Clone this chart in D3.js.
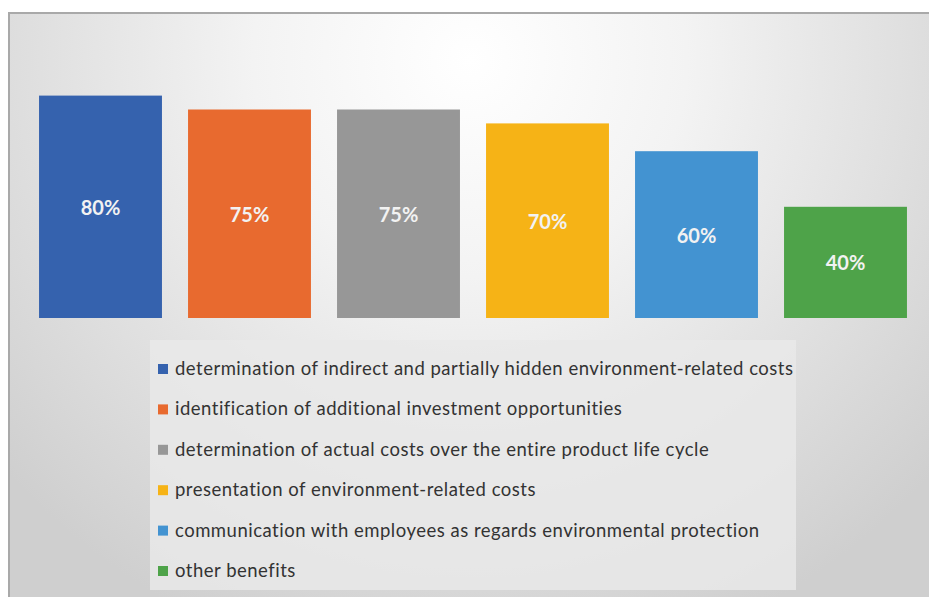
<!DOCTYPE html>
<html>
<head>
<meta charset="utf-8">
<script src="https://cdn.jsdelivr.net/npm/d3@7"></script>
<style>
    body { margin: 0; background: #fff; }
    svg { display: block; }
    .bar-label { font-family: Lato, "Open Sans", sans-serif; font-weight: bold; font-size: 20px; fill: #f2f2f2; }
    .legend-text { font-family: Lato, "Open Sans", sans-serif; font-size: 18.5px; letter-spacing: 0.5px; fill: #333; }
</style>
</head>
<body>
<div id="chart"></div>
<script>
'use strict';

const categories = [
    "determination of indirect and partially hidden environment-related costs",
    "identification of additional investment opportunities",
    "determination of actual costs over the entire product life cycle",
    "presentation of environment-related costs",
    "communication with employees as regards environmental protection",
    "other benefits"
];
const values = [80, 75, 75, 70, 60, 40];
const colors = ["#3562ae", "#e86a2f", "#979797", "#f6b316", "#4393d1", "#4ea349"];

let width = 929;
let height = 599;
let margin = { top: 40, bottom: 281, left: 26, right: 9 };

const svg = d3.select("#chart")
    .append("svg")
    .attr("width", width)
    .attr("height", height);

// background gradient
const defs = svg.append("defs");
const grad = defs.append("radialGradient")
    .attr("id", "bg")
    .attr("gradientUnits", "userSpaceOnUse")
    .attr("cx", 470).attr("cy", 60).attr("r", 620);
grad.append("stop").attr("offset", "0%").attr("stop-color", "#ffffff");
grad.append("stop").attr("offset", "35%").attr("stop-color", "#f3f3f3");
grad.append("stop").attr("offset", "100%").attr("stop-color", "#cfcfcf");

svg.append("rect")
    .attr("x", 9).attr("y", 13)
    .attr("width", width - 9).attr("height", 584)
    .attr("fill", "url(#bg)");

svg.append("path")
    .attr("d", `M9,597 V13 H${width}`)
    .attr("fill", "none")
    .attr("stroke", "#a9a9a9")
    .attr("stroke-width", 2);

const xScale = d3.scaleBand()
    .domain(categories)
    .range([margin.left, width - margin.right])
    .paddingInner(0.175)
    .paddingOuter(0.0875);

const yScale = d3.scaleLinear()
    .domain([0, 100])
    .range([height - margin.bottom, margin.top]);

svg.selectAll("rect.bar")
    .data(categories)
    .join("rect")
    .attr("class", "bar")
    .attr("x", d => xScale(d))
    .attr("y", (d, i) => yScale(values[i]))
    .attr("width", xScale.bandwidth())
    .attr("height", (d, i) => yScale(0) - yScale(values[i]))
    .attr("fill", (d, i) => colors[i]);

svg.selectAll("text.bar-label")
    .data(categories)
    .join("text")
    .attr("class", "bar-label")
    .attr("x", d => xScale(d) + xScale.bandwidth() / 2)
    .attr("y", (d, i) => (yScale(values[i]) + yScale(0)) / 2)
    .attr("dy", "0.4em")
    .attr("text-anchor", "middle")
    .text((d, i) => values[i] + "%");

// legend
const legend = svg.append("g").attr("transform", "translate(150,340)");
legend.append("rect")
    .attr("width", 646).attr("height", 250)
    .attr("fill", "#e9e9e9")
    .attr("opacity", 0.85);

const rowScale = d3.scalePoint()
    .domain(categories)
    .range([35, 237]);

const rows = legend.selectAll("g.row")
    .data(categories)
    .join("g")
    .attr("class", "row")
    .attr("transform", d => `translate(0,${rowScale(d)})`);

rows.append("rect")
    .attr("x", 8).attr("y", -11)
    .attr("width", 10).attr("height", 10)
    .attr("fill", (d, i) => colors[i]);

rows.append("text")
    .attr("class", "legend-text")
    .attr("x", 25)
    .attr("y", 0)
    .text(d => d);
</script>
</body>
</html>
